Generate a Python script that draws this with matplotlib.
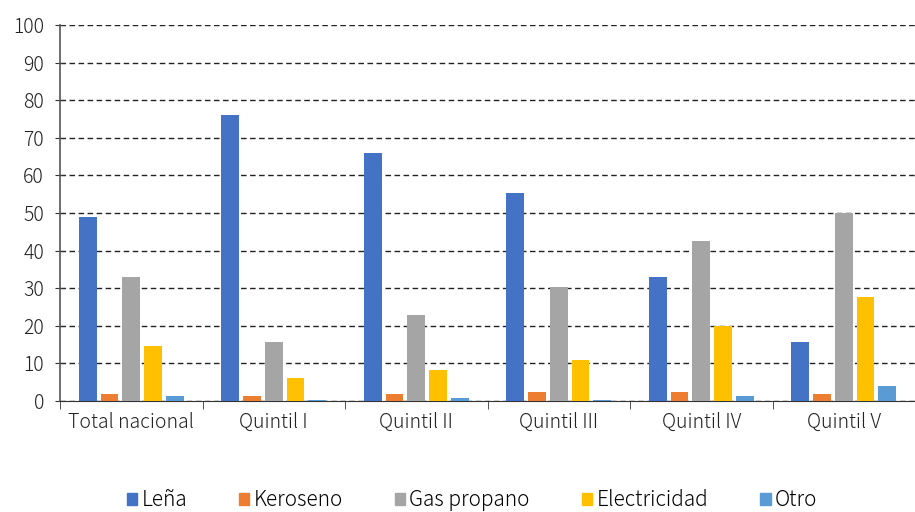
import numpy as np
import matplotlib
matplotlib.use("Agg")
import matplotlib.pyplot as plt
from matplotlib.patches import Patch

plt.rcParams['font.family'] = ['Noto Sans CJK JP', 'DejaVu Sans']
plt.rcParams['font.weight'] = 'light'

grupos = ["Total nacional", "Quintil I", "Quintil II", "Quintil III", "Quintil IV", "Quintil V"]
series = ["Leña", "Keroseno", "Gas propano", "Electricidad", "Otro"]
colores = ["#4472C4", "#ED7D31", "#A5A5A5", "#FFC000", "#5B9BD5"]

lena = [49.0, 76.0, 66.0, 55.3, 33.0, 15.7]
keroseno = [1.8, 1.3, 1.8, 2.3, 2.3, 1.8]
gas = [33.0, 15.7, 23.0, 30.3, 42.6, 50.0]
electricidad = [14.6, 6.1, 8.2, 10.9, 19.9, 27.7]
otro = [1.3, 0.3, 0.8, 0.3, 1.3, 3.9]

valores = [lena, keroseno, gas, electricidad, otro]

fig = plt.figure(figsize=(9.15, 5.12), dpi=100)
ax = fig.add_axes([60/915, 1-401/512, 855/915, 376/512])

x = np.arange(len(grupos))
paso = 0.153
ancho = 0.125
for i, (vals, col) in enumerate(zip(valores, colores)):
    ax.bar(x + (i - 2) * paso, vals, ancho, color=col, linewidth=0, zorder=3)

ax.set_ylim(0, 100)
ax.set_xlim(-0.5, len(grupos) - 0.5)
ax.set_yticks(range(0, 101, 10))
ax.yaxis.grid(True, linestyle=(0, (4, 2.5)), color="#222222", linewidth=1.0, zorder=0)
ax.set_xticks(x)
ax.set_xticklabels(grupos)
ax.set_xticks(np.arange(-0.5, len(grupos), 1), minor=True)
ax.tick_params(axis="x", which="major", length=0, pad=8, labelsize=14, colors="#222222")
ax.tick_params(axis="x", which="minor", length=6, color="#333333", direction="out")
ax.tick_params(axis="y", length=7, direction="inout", color="#333333", labelsize=14,
               labelcolor="#222222", pad=8)
for s in ["top", "right"]:
    ax.spines[s].set_visible(False)
ax.spines["left"].set_color("#555555")
ax.spines["left"].set_linewidth(1.2)
ax.spines["bottom"].set_color("#333333")

handles = [Patch(color=c, label=s) for s, c in zip(series, colores)]
fig.legend(handles=handles, loc="center", bbox_to_anchor=(472/915, 1 - 500/512), ncol=5,
           frameon=False, fontsize=15, handlelength=0.5, handleheight=0.5,
           handletextpad=0.2, columnspacing=2.5)

fig.savefig("out.png", dpi=100)
